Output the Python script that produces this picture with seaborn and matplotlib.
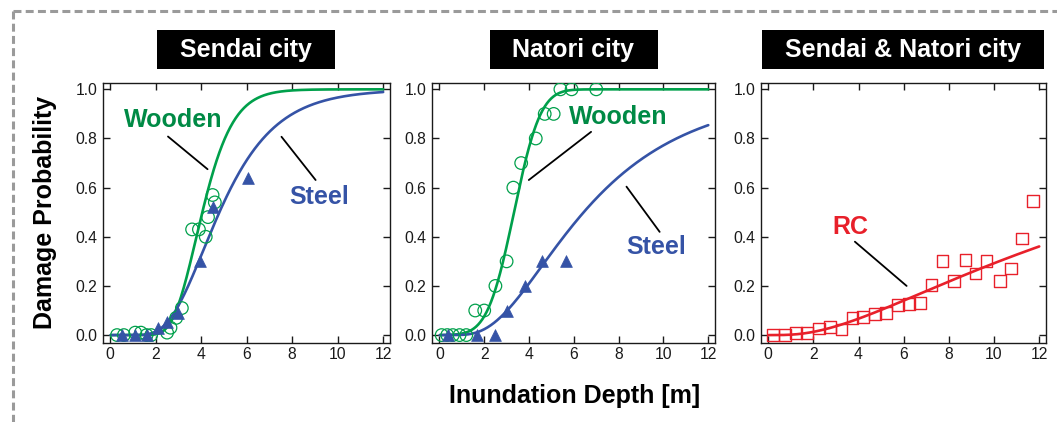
import math
import numpy as np
import pandas as pd
import seaborn as sns
import matplotlib
matplotlib.use("Agg")
import matplotlib.pyplot as plt
from matplotlib.lines import Line2D
from matplotlib.patches import Rectangle

# ---------------- observed damage ratios ----------------
sendai_wood_depth = [0.3, 0.6, 1.1, 1.35, 1.6, 1.8, 2.5, 2.65, 2.9, 3.15, 3.6, 3.9, 4.2, 4.3, 4.5, 4.6]
sendai_wood_ratio = [0.00, 0.00, 0.01, 0.01, 0.00, 0.00, 0.01, 0.03, 0.07, 0.11, 0.43, 0.43, 0.40, 0.48, 0.57, 0.54]
sendai_steel_depth = [0.5, 1.1, 1.6, 2.1, 2.5, 3.0, 3.95, 4.5, 6.05]
sendai_steel_ratio = [0.00, 0.00, 0.00, 0.03, 0.055, 0.09, 0.30, 0.52, 0.64]

natori_wood_depth = [0.1, 0.35, 0.6, 0.9, 1.2, 1.6, 2.0, 2.5, 3.0, 3.3, 3.65, 4.3, 4.7, 5.1, 5.4, 5.9, 7.0]
natori_wood_ratio = [0.0, 0.0, 0.0, 0.0, 0.0, 0.10, 0.10, 0.20, 0.30, 0.60, 0.70, 0.80, 0.90, 0.90, 1.0, 1.0, 1.0]
natori_steel_depth = [0.4, 1.7, 2.5, 3.0, 3.8, 4.6, 5.65]
natori_steel_ratio = [0.0, 0.0, 0.0, 0.10, 0.20, 0.30, 0.30]

rc_depth = [0.22, 0.74, 1.22, 1.73, 2.26, 2.73, 3.25, 3.73, 4.21, 4.72, 5.21, 5.76,
            6.24, 6.72, 7.23, 7.72, 8.24, 8.74, 9.18, 9.67, 10.26, 10.74, 11.25, 11.73]
rc_ratio = [0.0, 0.0, 0.007, 0.01, 0.027, 0.034, 0.023, 0.068, 0.072, 0.085, 0.09, 0.122,
            0.126, 0.129, 0.204, 0.303, 0.221, 0.305, 0.251, 0.303, 0.221, 0.271, 0.393, 0.547]

# ---------------- fitted fragility functions ----------------
# lognormal: (median depth [m], log standard deviation)
sendai_wood_fit = (4.05, 0.26)
sendai_steel_fit = (4.8, 0.40)
natori_steel_fit = (6.44, 0.59)
rc_fit = (16.9, 0.96)
# normal in depth: (mean [m], standard deviation [m])
natori_wood_fit = (3.33, 0.93)

panel_titles = ["Sendai city", "Natori city", "Sendai & Natori city"]
x_ticks = [0, 2, 4, 6, 8, 10, 12]
y_ticks = [0.0, 0.2, 0.4, 0.6, 0.8, 1.0]

GREEN = "#00a04b"
GREEN_TXT = "#008a45"
BLUE = "#3553a6"
RED = "#e8202a"

_erf = np.frompyfunc(math.erf, 1, 1)


def lognormal_cdf(x, median, beta):
    z = (np.log(x) - math.log(median)) / (beta * math.sqrt(2.0))
    return 0.5 * (1.0 + _erf(z).astype(float))


def normal_cdf(x, mean, sd):
    z = (x - mean) / (sd * math.sqrt(2.0))
    return 0.5 * (1.0 + _erf(z).astype(float))


depth_grid = np.linspace(0.02, 12.0, 500)

sns.set_theme(style="ticks")
plt.rcParams["font.family"] = ["Liberation Sans", "DejaVu Sans"]

W, H = 1057, 422
fig = plt.figure(figsize=(W / 100, H / 100), dpi=100)
fig.patch.set_facecolor("white")

axes_px = [(102.7, 390.0), (432.0, 715.0), (760.7, 1046.0)]
top_px, bottom_px = 82.7, 342.7
axes = []
for x0, x1 in axes_px:
    ax = fig.add_axes([x0 / W, 1 - bottom_px / H, (x1 - x0) / W, (bottom_px - top_px) / H])
    axes.append(ax)


def curve(ax, y, color):
    sns.lineplot(x=depth_grid, y=y, ax=ax, color=color, linewidth=1.9,
                 estimator=None, sort=False, zorder=2)


def circles(ax, x, y):
    sns.scatterplot(x=x, y=y, ax=ax, marker="o", s=82, facecolor="none",
                    edgecolor=GREEN, linewidth=0.9, zorder=3)


def triangles(ax, x, y):
    sns.scatterplot(x=x, y=y, ax=ax, marker="^", s=72, color=BLUE,
                    edgecolor=BLUE, linewidth=0.5, zorder=4)


# Sendai
ax = axes[0]
circles(ax, sendai_wood_depth, sendai_wood_ratio)
triangles(ax, sendai_steel_depth, sendai_steel_ratio)
curve(ax, lognormal_cdf(depth_grid, *sendai_wood_fit), GREEN)
curve(ax, lognormal_cdf(depth_grid, *sendai_steel_fit), BLUE)

# Natori
ax = axes[1]
circles(ax, natori_wood_depth, natori_wood_ratio)
triangles(ax, natori_steel_depth, natori_steel_ratio)
curve(ax, normal_cdf(depth_grid, *natori_wood_fit), GREEN)
curve(ax, lognormal_cdf(depth_grid, *natori_steel_fit), BLUE)

# RC, both cities
ax = axes[2]
sns.scatterplot(x=rc_depth, y=rc_ratio, ax=ax, marker="s", s=72, facecolor="none",
                edgecolor=RED, linewidth=1.0, zorder=3)
curve(ax, lognormal_cdf(depth_grid, *rc_fit), RED)

# curve labels with leader lines: (text, color, text pos, line start, line end)
labels = [
    [("Wooden", GREEN_TXT, (2.77, 0.875), (2.54, 0.808), (4.28, 0.675)),
     ("Steel", BLUE, (9.18, 0.56), (7.53, 0.807), (9.03, 0.631))],
    [("Wooden", GREEN_TXT, (7.98, 0.889), (6.77, 0.827), (3.99, 0.631)),
     ("Steel", BLUE, (9.68, 0.36), (8.35, 0.604), (9.83, 0.42))],
    [("RC", RED, (3.62, 0.44), (3.84, 0.38), (6.13, 0.20))],
]

for ax, lab in zip(axes, labels):
    for text, col, tpos, l0, l1 in lab:
        ax.text(*tpos, text, color=col, fontsize=18, fontweight="bold",
                ha="center", va="center", zorder=5)
        ax.annotate("", xy=l1, xytext=l0,
                    arrowprops=dict(arrowstyle="-", color="black", lw=1.3,
                                    shrinkA=0, shrinkB=0))

for ax in axes:
    ax.set_xlim(-0.33, 12.3)
    ax.set_ylim(-0.031, 1.027)
    ax.set_xticks(x_ticks)
    ax.set_yticks(y_ticks)
    ax.set_xticklabels([str(t) for t in x_ticks])
    ax.set_yticklabels([f"{t:.1f}" for t in y_ticks])
    ax.set_xlabel("")
    ax.set_ylabel("")
    ax.tick_params(direction="in", length=5, width=1.0, top=True, right=True,
                   labelsize=11.3, colors="#1a1a1a", pad=4)
    ax.tick_params(axis="x", pad=3)
    for sp in ax.spines.values():
        sp.set_visible(True)
        sp.set_linewidth(1.0)
        sp.set_color("#1a1a1a")

fig.text(45 / W, 1 - 212 / H, "Damage Probability", rotation=90, fontsize=18,
         fontweight="bold", ha="center", va="center", color="black")
fig.text(575 / W, 1 - 396 / H, "Inundation Depth [m]", fontsize=18,
         fontweight="bold", ha="center", va="center", color="black")

# black title plates above each panel
title_y = 1 - 49.5 / H
title_texts = []
for ax, title in zip(axes, panel_titles):
    pos = ax.get_position()
    t = fig.text(pos.x0 + pos.width / 2, title_y, title, color="white", fontsize=18,
                 fontweight="bold", ha="center", va="center", zorder=6)
    title_texts.append(t)

fig.canvas.draw()
renderer = fig.canvas.get_renderer()
for t in title_texts:
    bb = t.get_window_extent(renderer)
    pad_x = 23
    box_h = 39
    cy = (1 - title_y) * H
    rect = Rectangle(((bb.x0 - pad_x) / W, 1 - (cy + box_h / 2) / H),
                     (bb.width + 2 * pad_x) / W, box_h / H,
                     transform=fig.transFigure, facecolor="black",
                     edgecolor="none", zorder=5)
    fig.add_artist(rect)

# dashed frame along the top and left edges
frame_kw = dict(color="#9a9a9a", linewidth=2.2, linestyle=(0, (2.6, 1.4)),
                transform=fig.transFigure, solid_capstyle="butt")
fig.add_artist(Line2D([13 / W, 1.0], [1 - 11 / H, 1 - 11 / H], **frame_kw))
fig.add_artist(Line2D([13 / W, 13 / W], [1 - 11 / H, 0.0], **frame_kw))

fig.savefig("out.png", dpi=100, facecolor="white")
